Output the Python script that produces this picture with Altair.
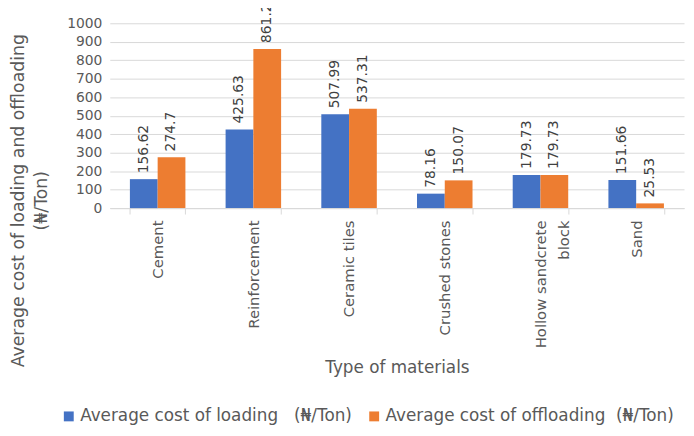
import altair as alt
import pandas as pd

categories = ["Cement", "Reinforcement", "Ceramic tiles", "Crushed stones",
              "Hollow sandcrete block", "Sand"]
loading = [156.62, 425.63, 507.99, 78.16, 179.73, 151.66]
offloading = [274.7, 861.2, 537.31, 150.07, 179.73, 25.53]
loading_labels = ["156.62", "425.63", "507.99", "78.16", "179.73", "151.66"]
offloading_labels = ["274.7", "861.2", "537.31", "150.07", "179.73", "25.53"]
series = ["Average cost of loading \u00a0\u00a0(\u20a6/Ton)",
          "Average cost of offloading \u00a0(\u20a6/Ton)"]
colors = ["#4472C4", "#ED7D31"]

rows = []
for i, c in enumerate(categories):
    rows.append({"material": c, "series": series[0], "value": loading[i], "label": loading_labels[i]})
    rows.append({"material": c, "series": series[1], "value": offloading[i], "label": offloading_labels[i]})
df = pd.DataFrame(rows)

FONT = "DejaVu Sans"
GREY = "#595959"

x_enc = alt.X(
    "material:N", sort=categories,
    scale=alt.Scale(paddingInner=0.42, paddingOuter=0.21),
    axis=alt.Axis(
        title="Type of materials", titleFontSize=17, titleColor=GREY, titleFont=FONT,
        titleFontWeight="normal", titleBaseline="top", titleY=153,
        labelAngle=270, labelAlign="right", labelBaseline="middle",
        labelFontSize=15, labelColor=GREY, labelFont=FONT, labelPadding=6,
        labelLimit=400, labelLineHeight=23, labelOverlap=False,
        labelExpr="datum.label == 'Hollow sandcrete block' ? ['Hollow sandcrete', 'block'] : datum.label",
        tickBand="extent", tickColor="#d9d9d9", tickSize=6,
        domainColor="#d9d9d9", grid=False,
    ),
)
xoff = alt.XOffset("series:N", sort=series)

y_enc = alt.Y(
    "value:Q", scale=alt.Scale(domain=[0, 1000], nice=False),
    axis=alt.Axis(
        title=["Average cost of loading and offloading", "(\u20a6/Ton)"],
        titleFontSize=17.5, titleColor=GREY, titleFont=FONT, titleFontWeight="normal",
        titleAngle=270, titleAlign="center", titleBaseline="top",
        titleX=-101, titleY=179, titleLineHeight=23,
        values=list(range(0, 1001, 100)), format="d", labelFontSize=14, labelColor=GREY,
        labelFont=FONT, labelPadding=8, labelOverlap=False, labelFlush=False,
        domain=False, ticks=False,
        gridColor="#d9d9d9", gridWidth=1,
    ),
)

base = alt.Chart(df).encode(x=x_enc, xOffset=xoff, y=y_enc)

bars = base.mark_bar().encode(
    color=alt.Color(
        "series:N", sort=series,
        scale=alt.Scale(domain=series, range=colors),
        legend=alt.Legend(
            title=None, orient="none", direction="horizontal",
            legendX=-50, legendY=389, symbolType="square", symbolSize=100,
            symbolStrokeWidth=0, labelFontSize=17, labelColor=GREY, labelFont=FONT,
            labelLimit=500, columnPadding=14, labelOffset=3,
        ),
    ),
)

text = base.mark_text(
    angle=270, align="left", baseline="middle", dx=6, fontSize=14,
    color="#404040", font=FONT,
).encode(text="label:N")

chart = (bars + text).properties(
    width=581, height=187, autosize="none",
    padding={"left": 103, "top": 13, "right": 2, "bottom": 218},
).configure_view(stroke=None)

chart.save("out.html", embed_options={"renderer": "svg", "actions": False})
